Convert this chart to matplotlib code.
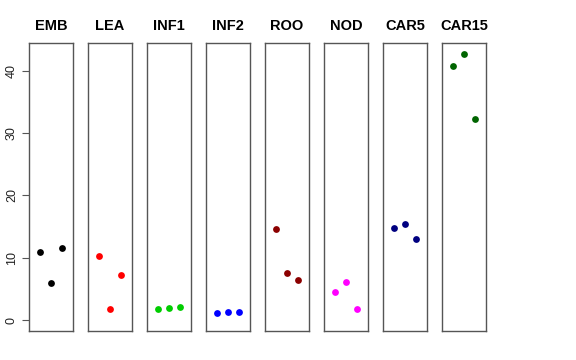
import numpy as np
import matplotlib
matplotlib.use("Agg")
import matplotlib.pyplot as plt

plt.rcParams["font.family"] = ["Liberation Sans", "DejaVu Sans"]

# === samples and values ===
groups = ["EMB", "LEA", "INF1", "INF2", "ROO", "NOD", "CAR5", "CAR15"]
colors = ["black", "red", "#00CD00", "blue", "#8B0000", "magenta", "#000080", "#006400"]
values = [
    [11.0, 5.9, 11.6],
    [10.3, 1.8, 7.2],
    [1.8, 1.9, 2.1],
    [1.2, 1.35, 1.4],
    [14.6, 7.5, 6.5],
    [4.5, 6.2, 1.8],
    [14.8, 15.4, 13.0],
    [40.8, 42.7, 32.2],
]
yticks = [0, 10, 20, 30, 40]

fig = plt.figure(figsize=(5.76, 3.6), dpi=100)
W, H = 576.0, 360.0
ymax = max(max(v) for v in values)
ylim = (-0.04 * ymax, 1.04 * ymax)

for i, (g, c, v) in enumerate(zip(groups, colors, values)):
    left = (29 + 59 * i) / W
    ax = fig.add_axes([left, 29 / H, 44 / W, 288 / H])
    ax.scatter(np.arange(1, len(v) + 1), v, s=24, color=c, zorder=3, linewidths=0)
    ax.set_xlim(0, 4)
    ax.set_ylim(*ylim)
    ax.set_xticks([])
    ax.set_title(g, fontsize=10.5, fontweight="bold", pad=9)
    for sp in ax.spines.values():
        sp.set_color("#555555")
        sp.set_linewidth(1.0)
    if i == 0:
        ax.set_yticks(yticks)
        ax.set_yticklabels([str(t) for t in yticks], rotation=90, va="center", fontsize=9)
        ax.tick_params(axis="y", length=5, color="#555555", pad=3, labelcolor="#222222")
    else:
        ax.set_yticks([])

fig.savefig("out.png", dpi=100)
